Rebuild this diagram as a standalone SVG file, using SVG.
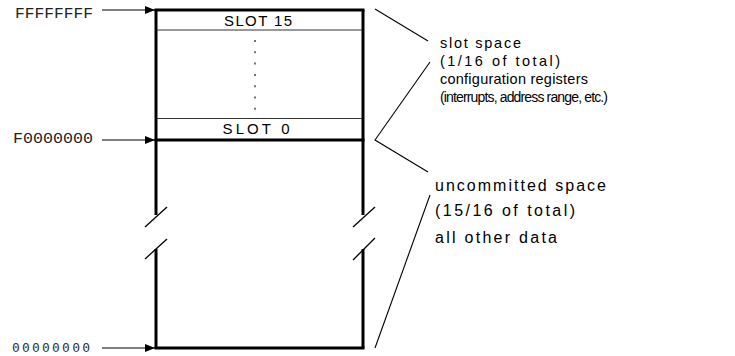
<svg xmlns="http://www.w3.org/2000/svg" width="735" height="356" viewBox="0 0 735 356">
<defs>
<marker id="ah" markerWidth="10" markerHeight="8" refX="10" refY="4" orient="auto" markerUnits="userSpaceOnUse">
<path d="M0,0 L10,4 L0,8 Z" fill="#000"/>
</marker>
<style>
.thick{stroke:#000;stroke-width:3;fill:none;stroke-linecap:square}
.thin{stroke:#333;stroke-width:1;fill:none}
.brk{stroke:#000;stroke-width:1.3;fill:none}
.arrow{stroke:#000;stroke-width:1.2;fill:none}
.conn{stroke:#000;stroke-width:1.1;fill:none}
.addr{font-family:"Liberation Mono","Courier New",monospace;font-size:15px;fill:#222}
.addr2{font-family:"DejaVu Sans Mono","Liberation Mono",monospace;font-size:13px;fill:#333}
.slot{font-family:"Liberation Sans",Arial,sans-serif;font-size:15px;fill:#000;text-anchor:middle}
.note{font-family:"Liberation Sans",Arial,sans-serif;font-size:14.5px;fill:#000}
.note2{font-family:"Liberation Sans",Arial,sans-serif;font-size:16px;fill:#000}
</style>
</defs>
<rect width="735" height="356" fill="#fff"/>

<g id="memory-map">
<line class="thick" x1="156" y1="10" x2="363" y2="10"/>
<line class="thick" x1="156" y1="140" x2="363" y2="140"/>
<line class="thick" x1="156" y1="348" x2="363" y2="348"/>
<line class="thick" x1="156" y1="10" x2="156" y2="215" style="stroke-linecap:butt"/>
<line class="thick" x1="156" y1="249" x2="156" y2="348" style="stroke-linecap:butt"/>
<line class="thick" x1="363" y1="10" x2="363" y2="215" style="stroke-linecap:butt"/>
<line class="thick" x1="363" y1="249" x2="363" y2="348" style="stroke-linecap:butt"/>
<line class="brk" x1="145" y1="227" x2="167" y2="207"/>
<line class="brk" x1="145" y1="259" x2="167" y2="239"/>
<line class="brk" x1="353" y1="227" x2="375" y2="207"/>
<line class="brk" x1="353" y1="260" x2="375" y2="238"/>
</g>

<g id="slot15">
<line class="thin" x1="157" y1="30" x2="362" y2="30"/>
<text class="slot" x="258" y="26" textLength="68" lengthAdjust="spacing">SLOT 15</text>
</g>

<g id="slot-dots">
<line x1="255" y1="40" x2="255" y2="110" stroke="#444" stroke-width="1.5" stroke-dasharray="2 9.3"/>
</g>

<g id="slot0">
<line class="thin" x1="157" y1="118.5" x2="362" y2="118.5"/>
<text class="slot" x="256" y="134" textLength="67" lengthAdjust="spacing">SLOT 0</text>
</g>

<g id="addr-ffffffff">
<text class="addr" x="15" y="18" textLength="78" lengthAdjust="spacingAndGlyphs">FFFFFFFF</text>
</g>
<g id="addr-f0000000">
<text class="addr" x="13" y="143" textLength="80" lengthAdjust="spacingAndGlyphs">F0000000</text>
</g>
<g id="addr-00000000">
<text class="addr2" x="12" y="352" textLength="78" lengthAdjust="spacing">00000000</text>
</g>

<g id="slot-space-note">
<text class="note" x="440" y="48" textLength="81" lengthAdjust="spacing">slot space</text>
<text class="note" x="440" y="66" textLength="120" lengthAdjust="spacing">(1/16 of total)</text>
<text class="note" x="440" y="84" textLength="148" lengthAdjust="spacing">configuration registers</text>
<text class="note" x="440" y="101.5" style="font-size:14px" textLength="168" lengthAdjust="spacing">(interrupts, address range, etc.)</text>
</g>

<g id="uncommitted-note">
<text class="note2" x="435" y="190.5" textLength="171" lengthAdjust="spacing">uncommitted space</text>
<text class="note2" x="435" y="215.5" textLength="140" lengthAdjust="spacing">(15/16 of total)</text>
<text class="note2" x="435" y="243" textLength="122" lengthAdjust="spacing">all other data</text>
</g>

<g id="connectors">
<line class="arrow" x1="102" y1="10" x2="155" y2="10" marker-end="url(#ah)"/>
<line class="arrow" x1="102" y1="140" x2="155" y2="140" marker-end="url(#ah)"/>
<line class="arrow" x1="102" y1="348" x2="155" y2="348" marker-end="url(#ah)"/>
<line class="conn" x1="375" y1="9" x2="428" y2="41"/>
<polyline class="conn" points="430,62 375,140 428,172"/>
<line class="conn" x1="430" y1="195" x2="375" y2="348"/>
</g>
</svg>
